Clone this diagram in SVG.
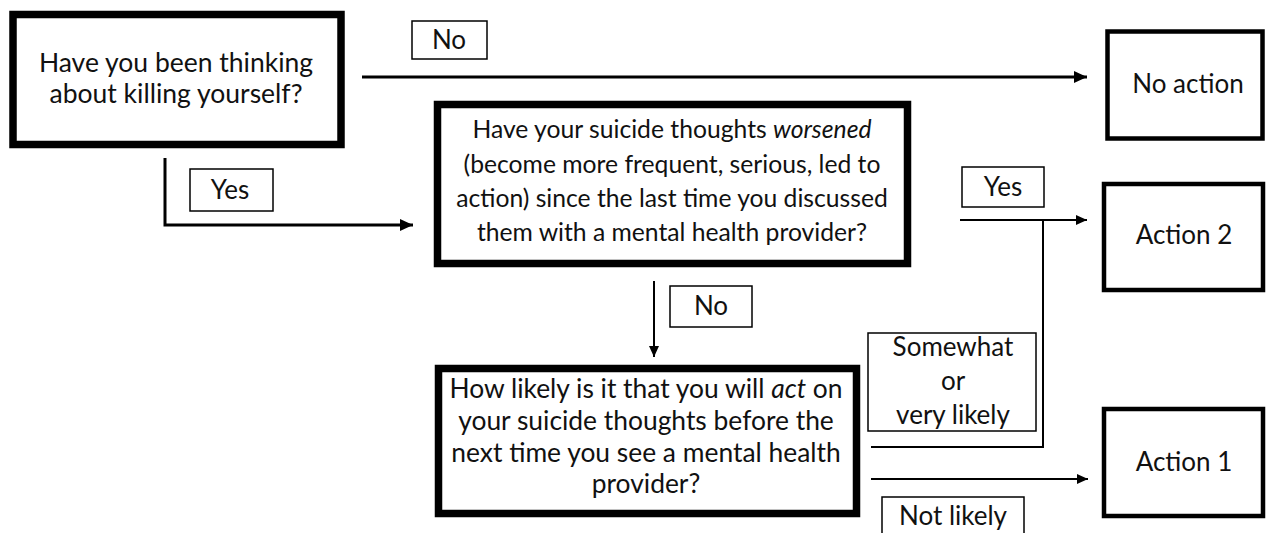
<svg xmlns="http://www.w3.org/2000/svg" width="1268" height="533" viewBox="0 0 1268 533">
<style>
  text { font-family: Lato, "Liberation Sans", sans-serif; fill: #111; text-anchor: middle; }
  .q { fill: #fff; stroke: #000; stroke-width: 7.5; }
  .a { fill: #fff; stroke: #000; stroke-width: 4.5; }
  .lbl { fill: #fff; stroke: #000; stroke-width: 1.5; }
  .thick { fill: none; stroke: #000; stroke-width: 3; }
  .thin { fill: none; stroke: #000; stroke-width: 2; }
  .t1 { font-size: 26.5px; }
  .t2 { font-size: 24.7px; }
  .t3 { font-size: 26.4px; }
  .ta { font-size: 26px; }
  .tl { font-size: 26px; }
</style>
<defs>
  <marker id="ah" markerUnits="userSpaceOnUse" markerWidth="14" markerHeight="12" refX="13" refY="6" orient="auto">
    <path d="M0,0 L13,6 L0,12 Z" fill="#000"/>
  </marker>
  <marker id="ahs" markerUnits="userSpaceOnUse" markerWidth="12" markerHeight="10" refX="11" refY="5" orient="auto">
    <path d="M0,0 L11,5 L0,10 Z" fill="#000"/>
  </marker>
</defs>
<g id="connectors">
  <path class="thick" d="M362,77 L1087,77" marker-end="url(#ah)"/>
  <path class="thick" d="M165,158 L165,225 L413,225" marker-end="url(#ah)"/>
  <path class="thin" d="M960,220 L1087,220" marker-end="url(#ahs)"/>
  <path class="thin" d="M871,447 L1043,447 L1043,220"/>
  <path class="thin" d="M654,281 L654,357" marker-end="url(#ahs)"/>
  <path class="thin" d="M871,479 L1088,479" marker-end="url(#ahs)"/>
</g>
<g id="q1">
  <rect class="q" x="13" y="14.5" width="328" height="130"/>
  <text class="t1" x="176" y="72">Have you been thinking</text>
  <text class="t1" x="176" y="103">about killing yourself?</text>
</g>
<g id="q2">
  <rect class="q" x="437.5" y="104.5" width="470" height="159"/>
  <text class="t2" x="672" y="138">Have your suicide thoughts <tspan font-style="italic">worsened</tspan></text>
  <text class="t2" x="672" y="173">(become more frequent, serious, led to</text>
  <text class="t2" x="672" y="207">action) since the last time you discussed</text>
  <text class="t2" x="672" y="241">them with a mental health provider?</text>
</g>
<g id="q3">
  <rect class="q" x="438.5" y="368.5" width="418" height="145"/>
  <text class="t3" x="646" y="398">How likely is it that you will <tspan font-style="italic">act</tspan> on</text>
  <text class="t3" x="646" y="430">your suicide thoughts before the</text>
  <text class="t3" x="646" y="462">next time you see a mental health</text>
  <text class="t3" x="646" y="493">provider?</text>
</g>
<g id="noaction">
  <rect class="a" x="1107.5" y="31.5" width="155" height="107"/>
  <text class="ta" x="1188" y="93">No action</text>
</g>
<g id="action2">
  <rect class="a" x="1104" y="184" width="159" height="106"/>
  <text class="ta" x="1184" y="244">Action 2</text>
</g>
<g id="action1">
  <rect class="a" x="1104" y="409" width="159" height="107"/>
  <text class="ta" x="1184" y="471">Action 1</text>
</g>
<g id="lbl-no1">
  <rect class="lbl" x="412" y="21" width="75" height="38"/>
  <text class="tl" x="449" y="49">No</text>
</g>
<g id="lbl-yes1">
  <rect class="lbl" x="190" y="169" width="83" height="42"/>
  <text class="tl" x="230" y="199">Yes</text>
</g>
<g id="lbl-yes2">
  <rect class="lbl" x="962" y="167" width="82" height="40"/>
  <text class="tl" x="1003" y="196">Yes</text>
</g>
<g id="lbl-no2">
  <rect class="lbl" x="670" y="286" width="82" height="41"/>
  <text class="tl" x="711" y="315">No</text>
</g>
<g id="lbl-somewhat">
  <rect class="lbl" x="868" y="333" width="168" height="98"/>
  <text class="tl" x="953" y="356">Somewhat</text>
  <text class="tl" x="953" y="390">or</text>
  <text class="tl" x="953" y="424">very likely</text>
</g>
<g id="lbl-notlikely">
  <rect class="lbl" x="882" y="497" width="142" height="50"/>
  <text class="tl" x="953" y="525">Not likely</text>
</g>
</svg>
